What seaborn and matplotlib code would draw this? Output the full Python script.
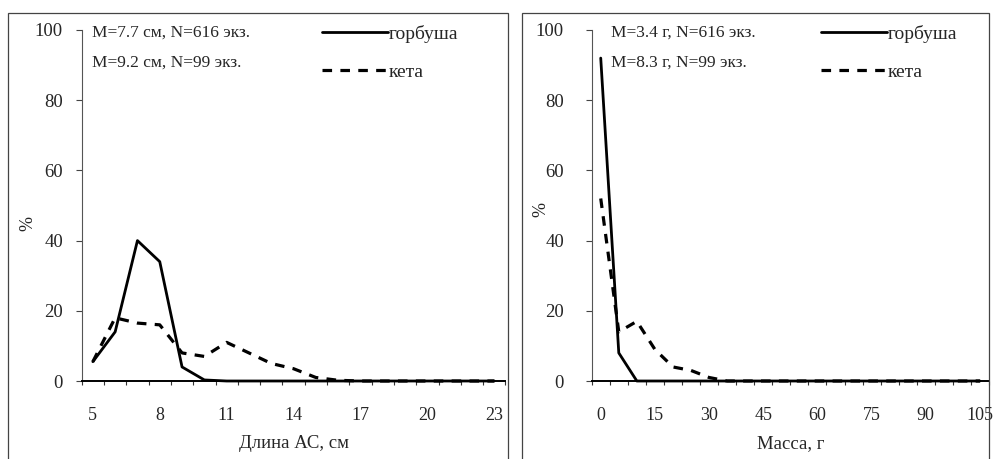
import matplotlib
matplotlib.use("Agg")
import matplotlib.pyplot as plt
import seaborn as sns
import numpy as np
import pandas as pd
from matplotlib.patches import Rectangle
from matplotlib.ticker import FixedLocator

# длина АС, см (категории 5..23)
len_cat = list(range(5, 24))
len_gorbusha = [5.5, 14, 40, 34, 4, 0.3, 0, 0, 0, 0, 0, 0, 0, 0, 0, 0, 0, 0, 0]
len_keta = [5.5, 18, 16.5, 16, 8, 7, 11, 8, 5, 3.5, 1, 0.2, 0, 0, 0, 0, 0, 0, 0]
len_ticks = [5, 8, 11, 14, 17, 20, 23]

# масса, г (категории 0..105 шаг 5)
mass_cat = list(range(0, 110, 5))
mass_gorbusha = [92, 8, 0, 0, 0, 0, 0, 0, 0, 0, 0, 0, 0, 0, 0, 0, 0, 0, 0, 0, 0, 0]
mass_keta = [52, 14, 17, 9, 4, 3, 1, 0, 0, 0, 0, 0, 0, 0, 0, 0, 0, 0, 0, 0, 0, 0]
mass_ticks = [0, 15, 30, 45, 60, 75, 90, 105]

labels = ["горбуша", "кета"]
notes_len = ["M=7.7 см, N=616 экз.", "M=9.2 см, N=99 экз."]
notes_mass = ["M=3.4 г, N=616 экз.", "M=8.3 г, N=99 экз."]

sns.set_style("white")
plt.rcParams['font.family'] = ['Liberation Serif', 'DejaVu Serif']

W, H = 996, 459
fig = plt.figure(figsize=(W / 100, H / 100), dpi=100)

# рамки панелей
for x0, x1 in [(8, 508), (522, 989)]:
    fig.add_artist(Rectangle((x0 / W, -0.05), (x1 - x0) / W, (H - 13) / H + 0.05,
                             transform=fig.transFigure, fill=False,
                             edgecolor='#444444', linewidth=0.9))

def px_axes(x0, x1, y_top=30, y_bot=381):
    return fig.add_axes([x0 / W, (H - y_bot) / H, (x1 - x0) / W, (y_bot - y_top) / H])

ax1 = px_axes(81.7, 505.4)
ax2 = px_axes(591.7, 989)

solid_kw = dict(color='black', linewidth=2.0, clip_on=False)
dash_kw = dict(color='black', linewidth=2.3, linestyle=(0, (3.0, 2.6)), clip_on=False)

sns.lineplot(x=len_cat, y=len_gorbusha, ax=ax1, label=labels[0], **solid_kw)
sns.lineplot(x=len_cat, y=len_keta, ax=ax1, label=labels[1], **dash_kw)
sns.lineplot(x=mass_cat, y=mass_gorbusha, ax=ax2, label=labels[0], **solid_kw)
sns.lineplot(x=mass_cat, y=mass_keta, ax=ax2, label=labels[1], **dash_kw)

def style_axis(ax, cats, step, ticks, xlabel, notes, note_x, ylab_x, ylab_y, ypad):
    ax.set_xlim(cats[0] - step / 2, cats[-1] + step / 2)
    ax.set_ylim(0, 100)
    ax.set_yticks(range(0, 101, 20))
    ax.set_xticks(ticks)
    ax.xaxis.set_minor_locator(FixedLocator(np.arange(cats[0] - step / 2, cats[-1] + step, step)))
    ax.tick_params(axis='x', which='major', bottom=True, length=0, pad=19, labelsize=13)
    ax.tick_params(axis='x', which='minor', bottom=True, length=3, width=0.8,
                   direction='out', color='#333333')
    ax.tick_params(axis='y', which='major', left=True, length=4.5, width=0.8, direction='out',
                   color='#444444', pad=ypad, labelsize=13.5)
    for s in ['top', 'right']:
        ax.spines[s].set_visible(False)
    ax.spines['left'].set_color('#555555')
    ax.spines['left'].set_linewidth(0.8)
    ax.spines['bottom'].set_color('black')
    ax.spines['bottom'].set_linewidth(1.4)
    ax.set_xlabel(xlabel, fontsize=13.5, labelpad=8)
    ax.set_ylabel('%', fontsize=13)
    ax.yaxis.set_label_coords(ylab_x, ylab_y)
    ax.patch.set_alpha(0)
    ax.grid(False)
    for i, t in enumerate(notes):
        ax.text(note_x, 0.993 - i * 0.087, t, transform=ax.transAxes,
                fontsize=12.5, va='center', ha='left')

style_axis(ax1, len_cat, 1, len_ticks, 'Длина АС, см', notes_len, 0.025, -0.106, 0.45, 9)
style_axis(ax2, mass_cat, 5, mass_ticks, 'Масса, г', notes_mass, 0.048, -0.107, 0.49, 15.5)

leg_kw = dict(loc='upper left', frameon=False, fontsize=14, handlelength=3.4,
              handletextpad=0.05, labelspacing=1.05, borderpad=0, borderaxespad=0)
ax1.legend(bbox_to_anchor=(0.567, 1.015), **leg_kw)
ax2.legend(bbox_to_anchor=(0.577, 1.015), **leg_kw)

fig.savefig('out.png', dpi=100)
